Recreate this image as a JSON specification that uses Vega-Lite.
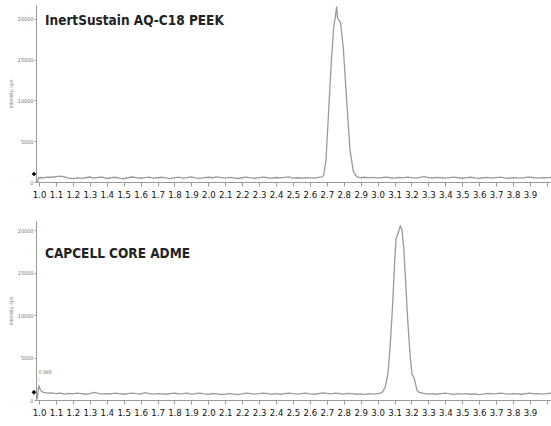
{
  "$schema": "https://vega.github.io/schema/vega-lite/v6.json",
  "padding": {"left": 8, "top": 5, "right": 0, "bottom": 0},
  "autosize": {"type": "pad"},
  "background": "white",
  "spacing": 22,
  "config": {
    "view": {"stroke": null},
    "axis": {"grid": false, "domainColor": "#9a9a9a", "tickColor": "#9a9a9a", "labelOverlap": false, "labelSeparation": 0},
    "axisX": {"labelFont": "Liberation Sans Narrow, DejaVu Sans Condensed, sans-serif", "labelFontSize": 9.5, "labelColor": "#111111", "tickSize": 4, "labelPadding": 3, "labelFlush": false, "labelOverlap": false},
    "axisY": {"labelFont": "Liberation Sans Narrow, DejaVu Sans Condensed, sans-serif", "labelFontSize": 5.5, "labelColor": "#777777", "tickSize": 2, "labelPadding": 1, "titleFontSize": 5, "titleFontWeight": "normal", "titleColor": "#888888", "titlePadding": 4, "labelOverlap": false}
  },
  "datasets": {
    "one": [{"k": 1}],
    "a": [
      {"t":0.99,"v":0},{"t":1.0,"v":550},{"t":1.025,"v":520},{"t":1.05,"v":600},{"t":1.075,"v":580},{"t":1.1,"v":650},{"t":1.125,"v":720},{"t":1.15,"v":640},{"t":1.175,"v":480},{"t":1.2,"v":420},{"t":1.225,"v":500},{"t":1.25,"v":450},{"t":1.275,"v":520},{"t":1.3,"v":610},{"t":1.325,"v":480},{"t":1.35,"v":560},{"t":1.375,"v":600},{"t":1.4,"v":430},{"t":1.425,"v":520},{"t":1.45,"v":580},{"t":1.475,"v":470},{"t":1.5,"v":400},{"t":1.525,"v":520},{"t":1.55,"v":610},{"t":1.575,"v":540},{"t":1.6,"v":460},{"t":1.625,"v":530},{"t":1.65,"v":600},{"t":1.675,"v":470},{"t":1.7,"v":520},{"t":1.725,"v":580},{"t":1.75,"v":500},{"t":1.775,"v":420},{"t":1.8,"v":510},{"t":1.825,"v":590},{"t":1.85,"v":480},{"t":1.875,"v":540},{"t":1.9,"v":620},{"t":1.925,"v":500},{"t":1.95,"v":450},{"t":1.975,"v":530},{"t":2.0,"v":580},{"t":2.025,"v":520},{"t":2.05,"v":620},{"t":2.075,"v":540},{"t":2.1,"v":470},{"t":2.125,"v":560},{"t":2.15,"v":500},{"t":2.175,"v":430},{"t":2.2,"v":520},{"t":2.225,"v":590},{"t":2.25,"v":510},{"t":2.275,"v":460},{"t":2.3,"v":540},{"t":2.325,"v":600},{"t":2.35,"v":520},{"t":2.375,"v":470},{"t":2.4,"v":550},{"t":2.425,"v":500},{"t":2.45,"v":560},{"t":2.475,"v":620},{"t":2.5,"v":480},{"t":2.525,"v":520},{"t":2.55,"v":460},{"t":2.575,"v":540},{"t":2.6,"v":500},{"t":2.625,"v":470},{"t":2.65,"v":560},{"t":2.672,"v":613},
      {"t":2.682,"v":860},{"t":2.695,"v":2700},{"t":2.711,"v":8800},{"t":2.727,"v":14950},{"t":2.741,"v":19000},{"t":2.75,"v":20250},{"t":2.758,"v":21500},{"t":2.763,"v":20100},{"t":2.77,"v":19900},{"t":2.782,"v":19450},{"t":2.798,"v":16200},{"t":2.817,"v":10050},{"t":2.837,"v":3900},{"t":2.857,"v":1260},{"t":2.876,"v":650},
      {"t":2.9,"v":520},{"t":2.925,"v":580},{"t":2.95,"v":500},{"t":2.975,"v":560},{"t":3.0,"v":470},{"t":3.025,"v":540},{"t":3.05,"v":600},{"t":3.075,"v":520},{"t":3.1,"v":480},{"t":3.125,"v":560},{"t":3.15,"v":510},{"t":3.175,"v":590},{"t":3.2,"v":530},{"t":3.225,"v":470},{"t":3.25,"v":560},{"t":3.275,"v":650},{"t":3.3,"v":540},{"t":3.325,"v":490},{"t":3.35,"v":560},{"t":3.375,"v":520},{"t":3.4,"v":470},{"t":3.425,"v":540},{"t":3.45,"v":600},{"t":3.475,"v":520},{"t":3.5,"v":460},{"t":3.525,"v":540},{"t":3.55,"v":580},{"t":3.575,"v":500},{"t":3.6,"v":440},{"t":3.625,"v":520},{"t":3.65,"v":560},{"t":3.675,"v":480},{"t":3.7,"v":530},{"t":3.725,"v":590},{"t":3.75,"v":500},{"t":3.775,"v":460},{"t":3.8,"v":540},{"t":3.825,"v":510},{"t":3.85,"v":470},{"t":3.875,"v":560},{"t":3.9,"v":600},{"t":3.925,"v":520},{"t":3.95,"v":480},{"t":3.975,"v":540},{"t":4.0,"v":500},{"t":4.025,"v":560},{"t":4.036,"v":520}
    ],
    "b": [
      {"t":0.99,"v":100},{"t":0.998,"v":1700},{"t":1.01,"v":1100},{"t":1.025,"v":900},{"t":1.05,"v":800},{"t":1.075,"v":850},{"t":1.1,"v":760},{"t":1.125,"v":820},{"t":1.15,"v":700},{"t":1.175,"v":780},{"t":1.2,"v":720},{"t":1.225,"v":820},{"t":1.25,"v":760},{"t":1.275,"v":680},{"t":1.3,"v":740},{"t":1.325,"v":900},{"t":1.35,"v":780},{"t":1.375,"v":700},{"t":1.4,"v":760},{"t":1.425,"v":720},{"t":1.45,"v":800},{"t":1.475,"v":740},{"t":1.5,"v":680},{"t":1.525,"v":750},{"t":1.55,"v":820},{"t":1.575,"v":740},{"t":1.6,"v":700},{"t":1.625,"v":860},{"t":1.65,"v":760},{"t":1.675,"v":700},{"t":1.7,"v":760},{"t":1.725,"v":720},{"t":1.75,"v":680},{"t":1.775,"v":750},{"t":1.8,"v":800},{"t":1.825,"v":720},{"t":1.85,"v":760},{"t":1.875,"v":820},{"t":1.9,"v":700},{"t":1.925,"v":740},{"t":1.95,"v":800},{"t":1.975,"v":720},{"t":2.0,"v":680},{"t":2.025,"v":760},{"t":2.05,"v":720},{"t":2.075,"v":650},{"t":2.1,"v":700},{"t":2.125,"v":760},{"t":2.15,"v":700},{"t":2.175,"v":640},{"t":2.2,"v":720},{"t":2.225,"v":800},{"t":2.25,"v":760},{"t":2.275,"v":700},{"t":2.3,"v":740},{"t":2.325,"v":820},{"t":2.35,"v":760},{"t":2.375,"v":700},{"t":2.4,"v":740},{"t":2.425,"v":680},{"t":2.45,"v":760},{"t":2.475,"v":820},{"t":2.5,"v":740},{"t":2.525,"v":700},{"t":2.55,"v":760},{"t":2.575,"v":800},{"t":2.6,"v":720},{"t":2.625,"v":680},{"t":2.65,"v":760},{"t":2.675,"v":840},{"t":2.7,"v":780},{"t":2.725,"v":720},{"t":2.75,"v":800},{"t":2.775,"v":760},{"t":2.8,"v":700},{"t":2.825,"v":780},{"t":2.85,"v":740},{"t":2.875,"v":680},{"t":2.9,"v":720},{"t":2.925,"v":660},{"t":2.95,"v":740},{"t":2.975,"v":700},{"t":3.0,"v":760},{"t":3.015,"v":800},{"t":3.026,"v":900},
      {"t":3.045,"v":1490},{"t":3.061,"v":3100},{"t":3.075,"v":6640},{"t":3.089,"v":11360},{"t":3.101,"v":16430},{"t":3.109,"v":19020},{"t":3.12,"v":19600},{"t":3.134,"v":20500},{"t":3.144,"v":20050},{"t":3.154,"v":18000},{"t":3.164,"v":14460},{"t":3.178,"v":9350},{"t":3.193,"v":5020},{"t":3.203,"v":3060},{"t":3.217,"v":2510},{"t":3.233,"v":1100},{"t":3.246,"v":900},{"t":3.272,"v":780},
      {"t":3.3,"v":700},{"t":3.325,"v":760},{"t":3.35,"v":680},{"t":3.375,"v":740},{"t":3.4,"v":800},{"t":3.425,"v":720},{"t":3.45,"v":660},{"t":3.475,"v":740},{"t":3.5,"v":700},{"t":3.525,"v":760},{"t":3.55,"v":680},{"t":3.575,"v":720},{"t":3.6,"v":640},{"t":3.625,"v":700},{"t":3.65,"v":780},{"t":3.675,"v":720},{"t":3.7,"v":760},{"t":3.725,"v":820},{"t":3.75,"v":740},{"t":3.775,"v":700},{"t":3.8,"v":760},{"t":3.825,"v":720},{"t":3.85,"v":680},{"t":3.875,"v":740},{"t":3.9,"v":800},{"t":3.925,"v":720},{"t":3.95,"v":760},{"t":3.975,"v":700},{"t":4.0,"v":740},{"t":4.025,"v":800},{"t":4.036,"v":760}
    ]
  },
  "vconcat": [
    {
      "width": 517, "height": 177,
      "layer": [
        {
          "data": {"name": "a"},
          "mark": {"type": "line", "color": "#9a9a9a", "strokeWidth": 1.3, "clip": true},
          "encoding": {
            "x": {"field": "t", "type": "quantitative", "scale": {"domain": [0.982, 4.036], "nice": false, "zero": false},
              "axis": {"tickCount": 30, "labelExpr": "datum.value > 3.95 ? '' : format(datum.value, '.1f')", "title": null, "labelOverlap": false}},
            "y": {"field": "v", "type": "quantitative", "scale": {"domain": [0, 21700], "nice": false},
              "axis": {"values": [0, 5000, 10000, 15000, 20000], "format": "d", "title": "Intensity, cps"}}
          }
        },
        {
          "data": {"name": "one"},
          "mark": {"type": "text", "align": "left", "baseline": "middle", "font": "Liberation Sans Narrow, DejaVu Sans Condensed, sans-serif", "fontWeight": "bold", "fontSize": 13.5, "color": "#222222"},
          "encoding": {"x": {"datum": 1.035}, "y": {"datum": 19700}, "text": {"value": "InertSustain AQ-C18 PEEK"}}
        },
        {
          "data": {"name": "one"},
          "mark": {"type": "point", "shape": "diamond", "filled": true, "color": "#000000", "size": 22, "clip": false, "opacity": 1},
          "encoding": {"x": {"datum": 0.97}, "y": {"datum": 980}}
        }
      ]
    },
    {
      "width": 517, "height": 179,
      "layer": [
        {
          "data": {"name": "b"},
          "mark": {"type": "line", "color": "#9a9a9a", "strokeWidth": 1.3, "clip": true},
          "encoding": {
            "x": {"field": "t", "type": "quantitative", "scale": {"domain": [0.982, 4.036], "nice": false, "zero": false},
              "axis": {"tickCount": 30, "labelExpr": "datum.value > 3.95 ? '' : format(datum.value, '.1f')", "title": null, "labelOverlap": false}},
            "y": {"field": "v", "type": "quantitative", "scale": {"domain": [0, 21100], "nice": false},
              "axis": {"values": [0, 5000, 10000, 15000, 20000], "format": "d", "title": "Intensity, cps"}}
          }
        },
        {
          "data": {"name": "one"},
          "mark": {"type": "text", "align": "left", "baseline": "middle", "font": "Liberation Sans Narrow, DejaVu Sans Condensed, sans-serif", "fontWeight": "bold", "fontSize": 13.5, "color": "#222222"},
          "encoding": {"x": {"datum": 1.035}, "y": {"datum": 17250}, "text": {"value": "CAPCELL CORE ADME"}}
        },
        {
          "data": {"name": "one"},
          "mark": {"type": "text", "align": "left", "baseline": "middle", "font": "Liberation Sans Narrow, DejaVu Sans Condensed, sans-serif", "fontSize": 5, "color": "#777777"},
          "encoding": {"x": {"datum": 0.998}, "y": {"datum": 3340}, "text": {"value": "0.998"}}
        },
        {
          "data": {"name": "one"},
          "mark": {"type": "rule", "color": "#aaaaaa", "strokeWidth": 0.7, "strokeDash": [1, 1]},
          "encoding": {"x": {"datum": 1.0}, "y": {"datum": 2100}, "y2": {"datum": 2700}}
        },
        {
          "data": {"name": "one"},
          "mark": {"type": "point", "shape": "diamond", "filled": true, "color": "#000000", "size": 22, "clip": false, "opacity": 1},
          "encoding": {"x": {"datum": 0.97}, "y": {"datum": 900}}
        }
      ]
    }
  ]
}
